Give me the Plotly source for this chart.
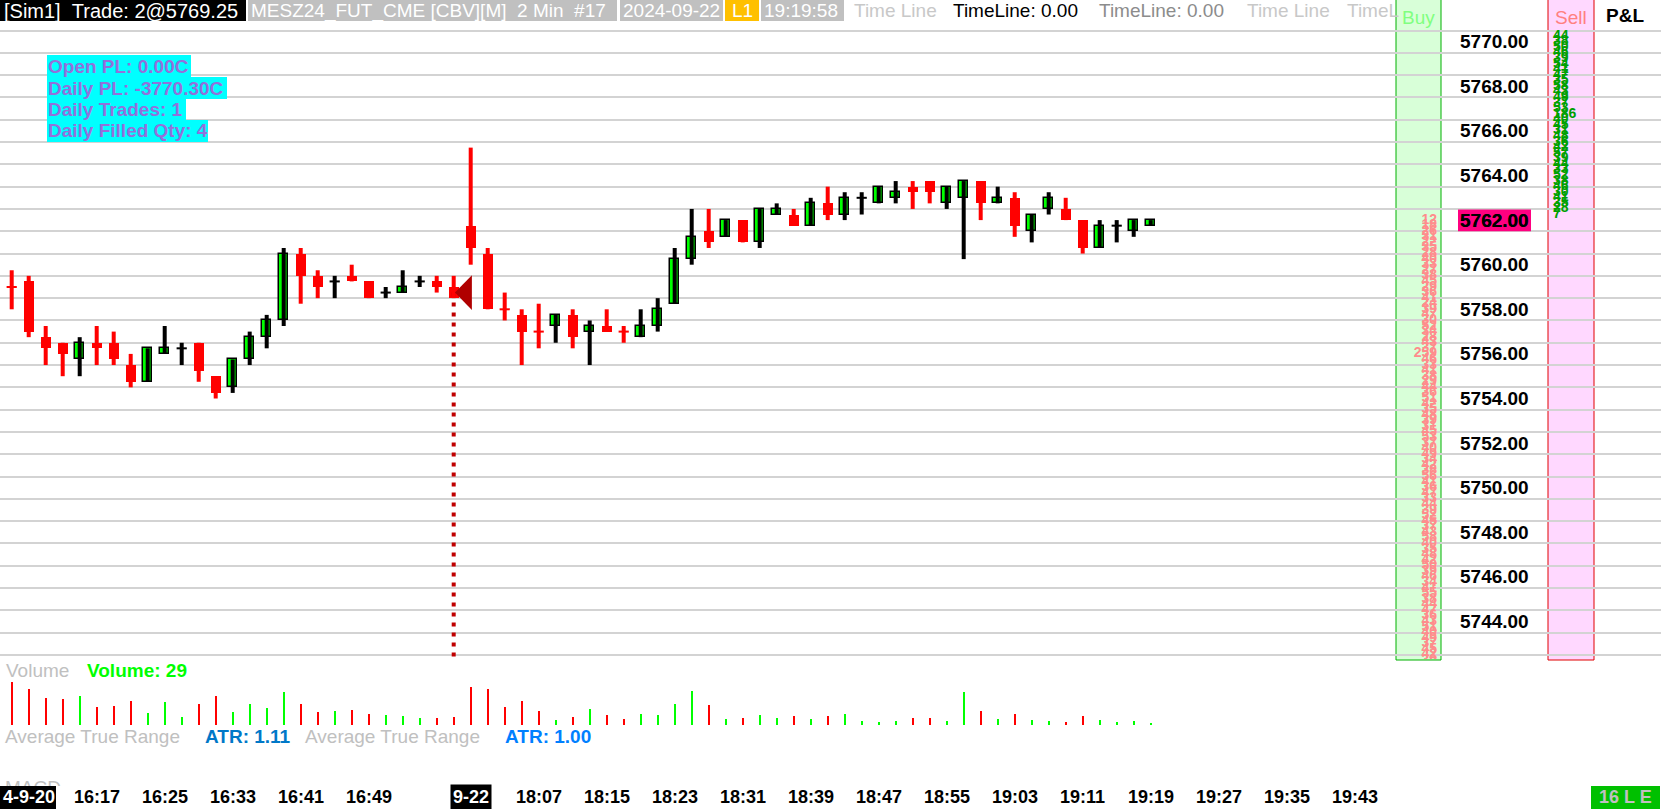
import plotly.graph_objects as go

W, H = 1661, 809
FONT = "Liberation Sans, Arial, sans-serif"

# 2 minute bars, MESZ24 (bar index 0 = 16:07 on 9-20)
opens = [5759.0, 5759.25, 5756.75, 5756.5, 5755.75, 5756.5, 5756.5, 5755.5, 5754.75, 5756.0,
         5756.25, 5756.5, 5755.0, 5754.5, 5755.75, 5756.75, 5757.5, 5760.5, 5759.5, 5759.25,
         5759.5, 5759.25, 5758.75, 5758.75, 5759.25, 5759.25, 5759.0, 5761.75, 5760.5, 5758.0,
         5757.75, 5757.0, 5757.25, 5757.75, 5757.0, 5757.25, 5757.0, 5756.75, 5757.25, 5758.25,
         5760.25, 5761.5, 5761.25, 5762.0, 5761.0, 5762.25, 5762.25, 5761.75, 5762.75, 5762.25,
         5763.0, 5762.75, 5763.0, 5763.5, 5763.75, 5762.75, 5763.0, 5763.75, 5762.75, 5763.0,
         5761.5, 5762.5, 5762.5, 5762.0, 5760.75, 5761.75, 5761.5, 5761.75]
highs = [5759.75, 5759.5, 5757.25, 5756.5, 5756.75, 5757.25, 5757.0, 5756.0, 5756.25, 5757.25,
         5756.5, 5756.5, 5755.0, 5755.75, 5757.0, 5757.75, 5760.75, 5760.75, 5759.75, 5759.5,
         5760.0, 5759.25, 5759.0, 5759.75, 5759.5, 5759.5, 5759.5, 5765.25, 5760.75, 5758.75,
         5758.0, 5758.25, 5757.75, 5758.0, 5757.5, 5758.0, 5757.25, 5758.0, 5758.5, 5760.75,
         5762.5, 5762.5, 5762.0, 5762.0, 5762.5, 5762.75, 5762.5, 5763.0, 5763.5, 5763.25,
         5763.25, 5763.5, 5763.75, 5763.75, 5763.75, 5763.5, 5763.75, 5763.75, 5763.5, 5763.25,
         5762.25, 5763.25, 5763.0, 5762.0, 5762.0, 5762.0, 5762.0, 5762.0]
lows = [5758.0, 5756.75, 5755.5, 5755.0, 5755.0, 5755.5, 5755.5, 5754.5, 5754.75, 5756.0,
        5755.5, 5754.75, 5754.0, 5754.25, 5755.5, 5756.25, 5757.25, 5758.25, 5758.5, 5758.5,
        5759.25, 5758.5, 5758.5, 5758.75, 5759.0, 5758.75, 5758.5, 5760.0, 5758.0, 5757.5,
        5755.5, 5756.25, 5756.5, 5756.25, 5755.5, 5757.0, 5756.5, 5756.75, 5757.0, 5758.25,
        5760.0, 5760.75, 5761.25, 5761.0, 5760.75, 5762.25, 5761.75, 5761.75, 5762.0, 5762.0,
        5762.25, 5762.75, 5762.75, 5762.5, 5762.75, 5762.5, 5760.25, 5762.0, 5762.75, 5761.25,
        5761.0, 5762.25, 5762.0, 5760.5, 5760.75, 5761.0, 5761.25, 5761.75]
closes = [5759.0, 5757.0, 5756.25, 5756.0, 5756.5, 5756.25, 5755.75, 5754.75, 5756.25, 5756.25,
          5756.25, 5755.25, 5754.25, 5755.75, 5756.75, 5757.5, 5760.5, 5759.5, 5759.0, 5759.25,
          5759.25, 5758.5, 5758.75, 5759.0, 5759.25, 5759.0, 5758.5, 5760.75, 5758.0, 5758.0,
          5757.0, 5757.0, 5757.75, 5756.75, 5757.25, 5757.0, 5757.0, 5757.25, 5758.0, 5760.25,
          5761.25, 5761.0, 5762.0, 5761.0, 5762.5, 5762.5, 5761.75, 5762.75, 5762.25, 5763.0,
          5763.0, 5763.5, 5763.25, 5763.25, 5763.25, 5763.5, 5763.75, 5762.75, 5763.0, 5761.75,
          5762.25, 5763.0, 5762.0, 5760.75, 5761.75, 5761.75, 5762.0, 5762.0]
volumes = [1068, 893, 671, 648, 724, 447, 472, 598, 302, 571,
           203, 527, 719, 327, 522, 428, 818, 521, 326, 351,
           372, 276, 249, 228, 176, 174, 203, 946, 897, 452,
           596, 348, 127, 201, 397, 252, 151, 273, 248, 523,
           846, 498, 153, 177, 249, 172, 226, 148, 224, 271,
           102, 77, 98, 173, 176, 101, 822, 352, 148, 273,
           126, 99, 76, 224, 127, 74, 101, 29]

# time axis labels (bar index -> text)
time_tick_idx = [5, 9, 13, 17, 21, 31, 35, 39, 43, 47, 51, 55, 59, 63, 67, 71, 75, 79]
time_tick_text = ["16:17", "16:25", "16:33", "16:41", "16:49", "18:07", "18:15", "18:23", "18:31",
                  "18:39", "18:47", "18:55", "19:03", "19:11", "19:19", "19:27", "19:35", "19:43"]
date_tick_idx = [27]
date_tick_text = ["9-22"]
first_date_text = "4-9-20"

price_ticks = [5770, 5768, 5766, 5764, 5762, 5760, 5758, 5756, 5754, 5752, 5750, 5748, 5746, 5744]

# trade marker
entry_bar = 26
entry_price = 5758.75

# market depth columns
bid_top, ask_bottom, tick = 5762.0, 5762.25, 0.25
bid_sizes = [12, 18, 26, 31, 22, 35, 28, 40, 33, 27,
             38, 45, 29, 36, 41, 24, 39, 47, 30, 52,
             34, 28, 43, 37, 259, 46, 33, 41, 38, 29,
             44, 36, 51, 42, 35, 48, 39, 31, 45, 53,
             37, 40, 49, 34, 42, 38, 56, 41, 36, 47,
             33, 44, 39, 52, 45, 37, 43, 58, 40, 35,
             48, 42, 50, 39, 46, 34, 41, 55, 38, 44,
             47, 36, 43, 51, 40, 49, 37, 45, 42, 39]
ask_sizes = [7, 28, 35, 41, 30, 46, 38, 52, 33, 44,
             39, 57, 42, 36, 48, 31, 45, 40, 186, 53,
             37, 49, 43, 58, 35, 47, 41, 54, 39, 46,
             50, 38, 44]
bid_prices = [bid_top - tick * k for k in range(len(bid_sizes))]
ask_prices = [ask_bottom + tick * k for k in range(len(ask_sizes))]

last_price = closes[-1]

# pixel geometry of the chart window
X0_PX, BAR_PX = 11.7, 17.0
P_REF, Y_REF_PX, PT_PX = 5770.0, 41.7, 22.3
VOL_PER_PX = 25.0

GREEN = "#00FF00"
RED = "#FF0000"


def px_to_bar(px):
    return (px - X0_PX) / BAR_PX


def px_to_price(py):
    return P_REF - (py - Y_REF_PX) / PT_PX


def xp(px):
    return px / W


def yp(py):
    return 1 - py / H


def rect(x0, y0, x1, y1, fill, line=None, layer="above"):
    """Rectangle in window pixels"""
    return dict(type="rect", xref="paper", yref="paper", x0=xp(x0), x1=xp(x1), y0=yp(y1), y1=yp(y0),
                fillcolor=fill, line=dict(color=line or fill, width=1 if line else 0), layer=layer)


def label(text, x, y, color, size=19, bold=False, anchor="left", bg=None):
    """Text in window pixels"""
    return dict(text=f"<b>{text}</b>" if bold else text, x=xp(x), y=yp(y), xref="paper", yref="paper",
                xanchor=anchor, yanchor="middle", showarrow=False, bgcolor=bg, borderpad=0,
                font=dict(family=FONT, size=size, color=color))


# direction of every bar (dojis follow the previous close / previous bar)
direction = []
for i, (o, c) in enumerate(zip(opens, closes)):
    if c != o:
        d = 1 if c > o else -1
    elif i == 0:
        d = -1
    elif c != closes[i - 1]:
        d = 1 if c > closes[i - 1] else -1
    else:
        d = direction[-1]
    direction.append(d)

fig = go.Figure()

# dotted line under the trade marker
fig.add_trace(go.Scatter(x=[entry_bar, entry_bar], y=[entry_price, px_to_price(659)], mode="lines",
                         line=dict(color="#C00000", width=4, dash="4px,6px"), hoverinfo="skip"))

# wicks
for d, col in [(1, "black"), (-1, RED)]:
    wx, wy = [], []
    for i in range(len(opens)):
        if direction[i] == d:
            wx += [i, i, None]
            wy += [lows[i], highs[i], None]
    fig.add_trace(go.Scatter(x=wx, y=wy, mode="lines", line=dict(color=col, width=4), hoverinfo="skip"))

# bodies
up = [i for i in range(len(opens)) if closes[i] > opens[i]]
dn = [i for i in range(len(opens)) if closes[i] < opens[i]]
fig.add_trace(go.Bar(x=up, base=[opens[i] for i in up], y=[closes[i] - opens[i] for i in up], width=0.5,
                     marker=dict(color=GREEN, line=dict(color="black", width=1.5))))
fig.add_trace(go.Bar(x=dn, base=[closes[i] for i in dn], y=[opens[i] - closes[i] for i in dn], width=0.6,
                     marker=dict(color=RED, line=dict(width=0))))

# doji ticks
for d, col in [(1, "black"), (-1, RED)]:
    dx, dy = [], []
    for i in range(len(opens)):
        if closes[i] == opens[i] and direction[i] == d:
            dx += [i - 0.3, i + 0.3, None]
            dy += [closes[i], closes[i], None]
    fig.add_trace(go.Scatter(x=dx, y=dy, mode="lines", line=dict(color=col, width=2), hoverinfo="skip"))

# trade marker (triangle pointing left)
fig.add_trace(go.Scatter(x=[entry_bar + 0.07, entry_bar + 1.07, entry_bar + 1.07, entry_bar + 0.07],
                         y=[entry_price, entry_price + 0.78, entry_price - 0.78, entry_price],
                         mode="lines", fill="toself", fillcolor="#B00000", line=dict(color="#B00000", width=0),
                         hoverinfo="skip"))

# market depth numbers
fig.add_trace(go.Scatter(x=[px_to_bar(1437)] * len(bid_sizes), y=bid_prices, mode="text",
                         text=[f"<b>{v}</b>" for v in bid_sizes], textposition="middle left",
                         textfont=dict(family=FONT, size=14, color="#FF8C8C"), hoverinfo="skip"))
fig.add_trace(go.Scatter(x=[px_to_bar(1553)] * len(ask_sizes), y=ask_prices, mode="text",
                         text=[f"<b>{v}</b>" for v in ask_sizes], textposition="middle right",
                         textfont=dict(family=FONT, size=14, color="#00A000"), hoverinfo="skip"))

# volume
for d, col in [(1, GREEN), (-1, RED)]:
    idx = [i for i in range(len(volumes)) if direction[i] == d]
    fig.add_trace(go.Bar(x=idx, y=[volumes[i] for i in idx], width=0.13, marker=dict(color=col, line=dict(width=0)),
                         xaxis="x2", yaxis="y2"))

# MACD pane title (clipped by the pane)
fig.add_trace(go.Scatter(x=[px_to_bar(5)], y=[-0.08], mode="text", text=["MACD"], textposition="middle right",
                         textfont=dict(family=FONT, size=19, color="#C0C0C0"), xaxis="x3", yaxis="y3",
                         cliponaxis=True, hoverinfo="skip"))

x_range = [px_to_bar(0), px_to_bar(W)]
axis_off = dict(showgrid=False, zeroline=False, showticklabels=False, ticks="", showline=False)

shapes = [
    # buy / sell columns
    rect(1396, -2, 1441, 660, "#D8FFD8", "#00B000", layer="below"),
    rect(1548, -2, 1594, 660, "#FFD8FF", "#E00000", layer="below"),
    # header boxes
    rect(0, 0, 246, 21, "black"),
    rect(248, 0, 617, 21, "#C0C0C0"),
    rect(620, 0, 723, 21, "#C0C0C0"),
    rect(725, 0, 759, 21, "#FFC000"),
    rect(761, 0, 844, 21, "#C0C0C0"),
    # trade info box
    rect(47, 55, 191, 77, "#00FFFF"),
    rect(47, 77, 227, 99, "#00FFFF"),
    rect(47, 99, 186, 120, "#00FFFF"),
    rect(47, 120, 208, 142, "#00FFFF"),
    # date boxes on the time scale
    rect(0, 786, 56, 809, "black"),
    rect(1591, 786, 1660, 809, "#00C000"),
    # last price marker on the price scale
    dict(type="rect", xref="paper", yref="y", x0=xp(1458), x1=xp(1531), y0=last_price - 0.5, y1=last_price + 0.47,
         fillcolor="#FF0080", line=dict(width=0), layer="above"),
]

annotations = [
    label("[Sim1]\u00a0\u00a0Trade: 2@5769.25", 3, 11, "white", size=20),
    label("MESZ24_FUT_CME [CBV][M]\u00a0\u00a02 Min\u00a0\u00a0#17", 250, 11, "white"),
    label("2024-09-22", 622, 11, "white"),
    label("L1", 742, 11, "white", anchor="center"),
    label("19:19:58", 763, 11, "white"),
    label("Time Line", 853, 11, "#C8C8C8"),
    label("TimeLine: 0.00", 952, 11, "black"),
    label("TimeLine: 0.00", 1098, 11, "#8C8C8C"),
    label("Time Line", 1246, 11, "#C8C8C8"),
    label("TimeL", 1346, 11, "#C8C8C8"),
    label("Buy", 1418, 17, "#80FF80", anchor="center"),
    label("Sell", 1571, 17, "#FF8080", anchor="center"),
    label("P&L", 1625, 16, "black", bold=True, anchor="center"),
    label("Open PL: 0.00C", 47, 66, "#9370DB", size=19, bold=True),
    label("Daily PL: -3770.30C", 47, 88, "#9370DB", size=19, bold=True),
    label("Daily Trades: 1", 47, 110, "#9370DB", size=19, bold=True),
    label("Daily Filled Qty: 4", 47, 131, "#9370DB", size=19, bold=True),
    label("Volume", 5, 670, "#C0C0C0"),
    label(f"Volume: {volumes[-1]}", 86, 670, GREEN, bold=True),
    label("Average True Range", 4, 736, "#C0C0C0"),
    label("ATR: 1.11", 204, 736, "#0078C8", bold=True),
    label("Average True Range", 304, 736, "#C0C0C0"),
    label("ATR: 1.00", 504, 736, "#0080FF", bold=True),
    label(first_date_text, 2, 797, "white", size=18, bold=True),
    label("16 L E", 1625, 797, "#C0C0C0", size=18, bold=True, anchor="center"),
]

for p in price_ticks:
    annotations.append(dict(text=f"<b>{p:.2f}</b>", x=xp(1494.5), y=p, xref="paper", yref="y", xanchor="center",
                            yanchor="middle", showarrow=False, font=dict(family=FONT, size=19, color="black")))
annotations.append(dict(text=f"<b>{last_price:.2f}</b>", x=xp(1494.5), y=last_price, xref="paper", yref="y",
                        xanchor="center", yanchor="middle", showarrow=False,
                        font=dict(family=FONT, size=19, color="black")))

for i, t in zip(time_tick_idx, time_tick_text):
    annotations.append(dict(text=f"<b>{t}</b>", x=i, y=yp(797), xref="x", yref="paper", xanchor="center",
                            yanchor="middle", showarrow=False, font=dict(family=FONT, size=18, color="black")))
for i, t in zip(date_tick_idx, date_tick_text):
    annotations.append(dict(text=f"<b>{t}</b>", x=i, y=yp(797), xref="x", yref="paper", xanchor="center",
                            yanchor="middle", showarrow=False, bgcolor="black", borderpad=2,
                            font=dict(family=FONT, size=18, color="white")))

fig.update_layout(
    width=W, height=H, margin=dict(l=0, r=0, t=0, b=0),
    paper_bgcolor="white", plot_bgcolor="rgba(0,0,0,0)",
    showlegend=False, barmode="overlay", bargap=0,
    xaxis=dict(domain=[0, 1], range=x_range, anchor="y", **axis_off),
    yaxis=dict(domain=[yp(659), yp(21)], range=[px_to_price(659), px_to_price(21)], anchor="x",
               showgrid=True, gridcolor="#D3D3D3", gridwidth=2, tick0=0.5, dtick=1,
               zeroline=False, showticklabels=False, ticks="", showline=False),
    xaxis2=dict(domain=[0, 1], range=x_range, anchor="y2", **axis_off),
    yaxis2=dict(domain=[yp(725), yp(662)], range=[0, 63 * VOL_PER_PX], anchor="x2", **axis_off),
    xaxis3=dict(domain=[0, 1], range=x_range, anchor="y3", **axis_off),
    yaxis3=dict(domain=[yp(786), yp(745)], range=[0, 1], anchor="x3", **axis_off),
    shapes=shapes,
    annotations=annotations,
    hovermode=False,
)

# the chart window has no page margin
fig.write_html("out.html", config={"displayModeBar": False},
               post_script="document.body.style.margin='0';document.body.style.overflow='hidden';")
